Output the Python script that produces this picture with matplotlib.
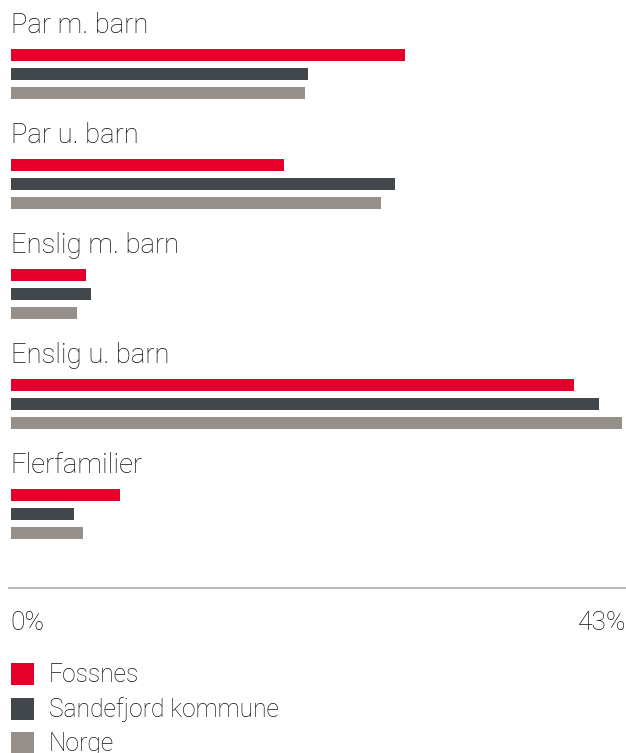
import matplotlib.pyplot as plt
from matplotlib.patches import Rectangle

plt.rcParams['font.family'] = ['Roboto', 'DejaVu Sans']

categories = ['Par m. barn', 'Par u. barn', 'Enslig m. barn', 'Enslig u. barn', 'Flerfamilier']
series = ['Fossnes', 'Sandefjord kommune', 'Norge']
fossnes = [27.9, 19.3, 5.3, 39.8, 7.7]
sandefjord = [21.0, 27.2, 5.7, 41.6, 4.5]
norge = [20.8, 26.2, 4.7, 43.2, 5.1]
colors = ['#e4002b', '#41474a', '#968f8a']
x_max = 43.5
tick_labels = ['0%', '43%']
text_color = '#111111'

W, H = 626, 753
fig = plt.figure(figsize=(W / 100, H / 100), dpi=100)

# main axes: x in percent, y in pixel rows from the top
left_px = 10.7
scale = (W - left_px) / x_max
ax = fig.add_axes([0, 0, 1, 1])
ax.set_xlim(-left_px / scale, x_max)
ax.set_ylim(H, 0)
ax.axis('off')

group_top = 55
group_step = 110
bar_step = 19
bar_h = 11.5

for i, cat in enumerate(categories):
    y0 = group_top + i * group_step
    ax.text(0, y0 - 22, cat, fontsize=19.8, fontweight='light', color=text_color,
            va='baseline', ha='left')
    for j, vals in enumerate([fossnes, sandefjord, norge]):
        ax.barh(y0 + j * bar_step, vals[i], height=bar_h, left=0,
                color=colors[j], edgecolor='none')

# overlay in plain pixels for axis line, tick labels and legend
ox = fig.add_axes([0, 0, 1, 1])
ox.set_xlim(0, W)
ox.set_ylim(H, 0)
ox.axis('off')
ox.patch.set_alpha(0)

ox.plot([8, W], [588, 588], color='#aaaaaa', lw=1.2, solid_capstyle='butt')
ox.text(10, 630, tick_labels[0], fontsize=19, fontweight='light', color=text_color,
        ha='left', va='baseline')
ox.text(W, 630, tick_labels[1], fontsize=19, fontweight='light', color=text_color,
        ha='right', va='baseline')

for k, name in enumerate(series):
    top = 663 + k * 34.5
    ox.add_patch(Rectangle((11, top), 23, 22, color=colors[k], lw=0))
    ox.text(49, top + 19.5, name, fontsize=17.7, fontweight='light', color=text_color,
            ha='left', va='baseline')

fig.savefig('out.png', dpi=100)
